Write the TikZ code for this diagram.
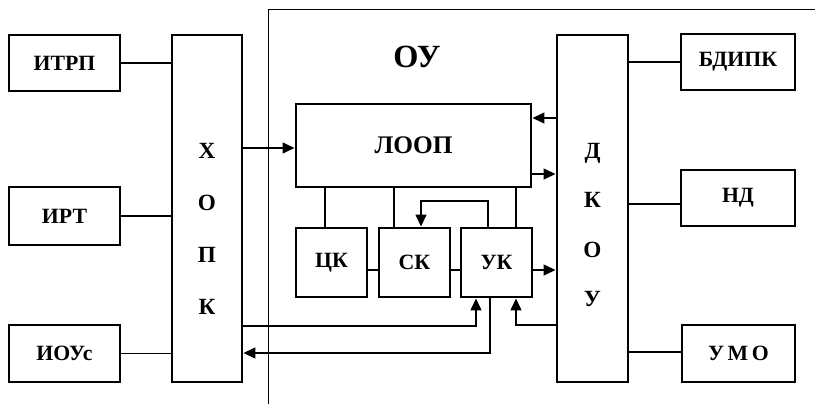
\documentclass[tikz,border=0pt]{standalone}
\usepackage{fontspec}
\setmainfont{Liberation Serif}
\usetikzlibrary{arrows.meta}
\begin{document}
\begin{tikzpicture}[x=0.025cm,y=-0.025cm,>={Triangle[length=3mm,width=2.7mm]},
	blok/.style={draw,line width=2pt,inner sep=0pt,font=\fontsize{15.5}{17}\selectfont\bfseries},
	letters/.style={align=center,font=\fontsize{16.5}{37}\selectfont\bfseries},
	link/.style={line width=1.4pt}]
	\useasboundingbox (0,0) rectangle (815,404);
	% frame of the OU
	\draw[line width=0.5pt] (268,404)--(268,9)--(815,9);
	\node[font=\fontsize{23}{25}\selectfont\bfseries] (ou) at (417,57) {ОУ};
	% left column
	\node[blok,minimum width=2.775cm,minimum height=1.4cm] (itrp) at (64.5,63) {ИТРП};
	\node[blok,minimum width=2.775cm,minimum height=1.45cm] (irt) at (64.5,216) {ИРТ};
	\node[blok,minimum width=2.775cm,minimum height=1.425cm] (ious) at (64.5,353.5) {ИОУс};
	\node[blok,minimum width=1.75cm,minimum height=8.675cm] (hopk) at (207,208.5) {};
	\node[letters] (hopktxt) at (207,229) {Х\\О\\П\\К};
	% inner blocks
	\node[blok,font=\fontsize{18}{20}\selectfont\bfseries,minimum width=5.875cm,minimum height=2.075cm] (loop) at (413.5,145.5) {ЛООП};
	\node[blok,minimum width=1.775cm,minimum height=1.725cm] (ck) at (331.5,262.5) {ЦК};
	\node[blok,minimum width=1.775cm,minimum height=1.725cm] (sk) at (414.5,262.5) {СК};
	\node[blok,minimum width=1.775cm,minimum height=1.725cm] (uk) at (496.5,262.5) {УК};
	% right column
	\node[blok,minimum width=1.775cm,minimum height=8.675cm] (dkou) at (592.5,208.5) {};
	\node[letters,font=\fontsize{16.5}{35}\selectfont\bfseries] (dkoutxt) at (592.5,225) {Д\\К\\О\\У};
	\node[blok,minimum width=2.85cm,minimum height=1.4cm] (bdipk) at (738,62) {БДИПК};
	\node[blok,minimum width=2.85cm,minimum height=1.4cm] (nd) at (738,198) {НД};
	\node[blok,minimum width=2.825cm,minimum height=1.425cm] (umo) at (738.5,353.5) {У\,М\,О};
	% connections
	\draw[link] (itrp.east)--(itrp.east -| hopk.west);
	\draw[link] (irt.east)--(irt.east -| hopk.west);
	\draw[link] (ious.east)--(ious.east -| hopk.west);
	\draw[link,->] (hopk.east |- 0,148)--(loop.west |- 0,148);
	\draw[link,->] (dkou.west |- 0,118)--(loop.east |- 0,118);
	\draw[link,->] (loop.east |- 0,174)--(dkou.west |- 0,174);
	\draw[link] (loop.south -| 325,0)--(ck.north -| 325,0);
	\draw[link] (loop.south -| 394,0)--(sk.north -| 394,0);
	\draw[link] (loop.south -| 516,0)--(uk.north -| 516,0);
	\draw[link,->] (uk.north -| 488,0)--(488,201)-|(sk.north -| 421,0);
	\draw[link] (ck.east |- 0,270)--(sk.west |- 0,270);
	\draw[link] (sk.east |- 0,270)--(uk.west |- 0,270);
	\draw[link,->] (uk.east |- 0,270)--(dkou.west |- 0,270);
	\draw[link,->] (hopk.east |- 0,326)-|(uk.south -| 476,0);
	\draw[link,->] (uk.south -| 490,0)|-(hopk.east |- 0,353);
	\draw[link,->] (dkou.west |- 0,325)-|(uk.south -| 516,0);
	\draw[link] (dkou.east |- bdipk.west)--(bdipk.west);
	\draw[link] (dkou.east |- 0,204)--(nd.west |- 0,204);
	\draw[link] (dkou.east |- 0,352)--(umo.west |- 0,352);
\end{tikzpicture}
\end{document}
